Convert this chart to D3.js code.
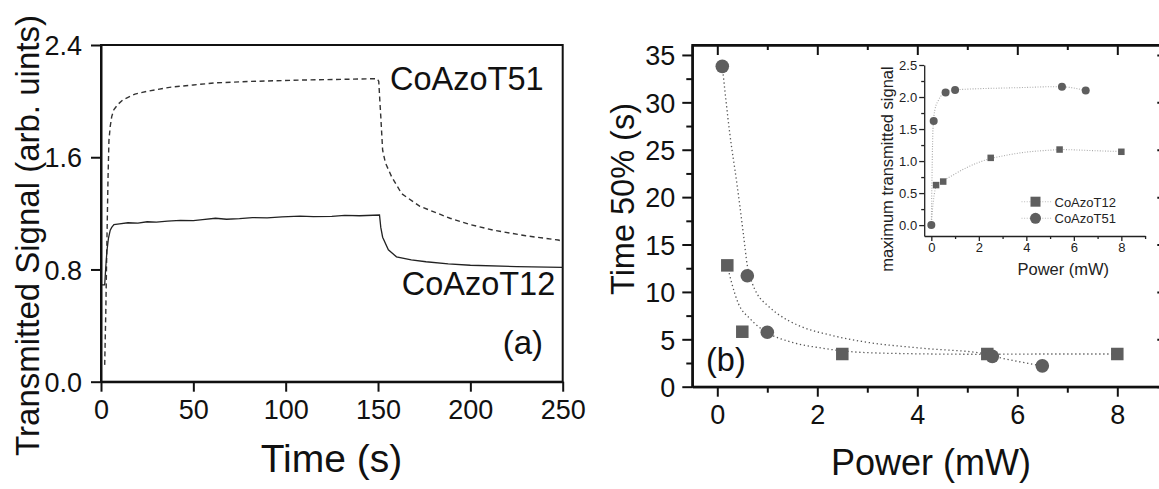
<!DOCTYPE html>
<html>
<head>
<meta charset="utf-8">
<script src="https://cdn.jsdelivr.net/npm/d3@7"></script>
<style>
  html, body { margin: 0; padding: 0; background: #ffffff; }
  svg { display: block; font-family: "Liberation Sans", Arial, sans-serif; }
</style>
</head>
<body>
<svg id="chart" width="1159" height="489"></svg>
<script>
// ---------- Panel (a): transmitted signal vs time ----------
const timeTicks = [0, 50, 100, 150, 200, 250];
const signalTicks = [0, 0.8, 1.6, 2.4];

// [time (s), signal]
const signalT51 = [
  [2.0, 0.12], [2.6, 0.5], [3.2, 1.0], [3.8, 1.45], [4.3, 1.72], [5.0, 1.82],
  [5.8, 1.89], [7, 1.94], [9.4, 1.98], [12, 2.01], [18.4, 2.05], [25, 2.07],
  [38, 2.10], [50, 2.115], [61.7, 2.13], [80, 2.14], [107.7, 2.15], [130, 2.155],
  [149.6, 2.16], [150.4, 2.14], [151, 2.0], [151.5, 1.89], [152.5, 1.65],
  [154, 1.56], [157.4, 1.46], [162.8, 1.34], [172.7, 1.25], [189, 1.165],
  [200, 1.12], [212.5, 1.08], [230, 1.04], [247.6, 1.01], [250, 1.0]
];
const signalT12 = [
  [0.4, 0.69], [2.0, 0.69], [2.5, 0.8], [3.2, 0.93], [4.0, 1.02], [5.0, 1.08],
  [5.8, 1.10], [7, 1.12], [10, 1.125], [14.6, 1.133], [20, 1.13], [25, 1.14],
  [30, 1.138], [36, 1.145], [43, 1.15], [50, 1.148], [55, 1.155], [62, 1.165],
  [68, 1.158], [75, 1.162], [82, 1.17], [90, 1.168], [98, 1.175], [107.8, 1.18],
  [115, 1.176], [125, 1.178], [132, 1.185], [140, 1.183], [150.8, 1.188],
  [151.5, 1.1], [152.5, 1.03], [155.6, 0.94], [160, 0.89], [168, 0.868],
  [176, 0.855], [188, 0.84], [200, 0.83], [225, 0.82], [250, 0.815]
];

// ---------- Panel (b): time to 50% vs power ----------
const powerTicks = [0, 2, 4, 6, 8];
const powerMinor = [1, 3, 5, 7, 9];
const timeHalfTicks = [0, 5, 10, 15, 20, 25, 30, 35];
const timeHalfMinor = [2.5, 7.5, 12.5, 17.5, 22.5, 27.5, 32.5];

const powerT12 = [0.2, 0.5, 2.5, 5.4, 8.0];
const halfT12  = [12.8, 5.8, 3.45, 3.45, 3.45];
const powerT51 = [0.1, 0.6, 1.0, 5.5, 6.5];
const halfT51  = [33.8, 11.7, 5.75, 3.2, 2.2];

// fitted decay guides
const fitHalfT12 = [
  [0.2, 12.8], [0.29, 10.9], [0.42, 8.8], [0.65, 7.2], [1.0, 5.7], [1.45, 4.75],
  [2.12, 4.05], [2.5, 3.78], [3.45, 3.52], [5.32, 3.42], [6.5, 3.45], [8.0, 3.45]
];
const fitHalfT51 = [
  [0.1, 33.8], [0.25, 26.7], [0.39, 21.5], [0.52, 16.2], [0.6, 12.8], [0.7, 10.9],
  [0.79, 9.85], [1.0, 8.6], [1.19, 7.75], [1.65, 6.4], [2.25, 5.46], [2.92, 4.75],
  [4.12, 4.05], [5.32, 3.5], [5.5, 3.25], [6.5, 2.2]
];

// ---------- Inset: maximum transmitted signal vs power ----------
const insetPowerTicks = [0, 2, 4, 6, 8];
const insetPowerMinor = [1, 3, 5, 7, 9];
const insetSignalTicks = [0, 0.5, 1.0, 1.5, 2.0, 2.5];
const insetSignalMinor = [0.25, 0.75, 1.25, 1.75, 2.25];

const maxPowerT12 = [0.2, 0.5, 2.5, 5.4, 8.0];
const maxSignalT12 = [0.625, 0.68, 1.05, 1.18, 1.145];
const maxPowerT51 = [0.0, 0.1, 0.6, 1.0, 5.5, 6.5];
const maxSignalT51 = [0.0, 1.625, 2.07, 2.11, 2.16, 2.10];

const fitMaxT12 = [
  [0, 0], [0.05, 0.25], [0.1, 0.42], [0.2, 0.6], [0.5, 0.69], [1, 0.8], [1.5, 0.9],
  [2, 0.98], [2.5, 1.04], [3, 1.08], [4, 1.14], [5, 1.17], [5.5, 1.18], [6, 1.175],
  [7, 1.16], [8, 1.15]
];
const fitMaxT51 = [
  [0, 0], [0.03, 0.8], [0.07, 1.5], [0.15, 1.8], [0.3, 1.95], [0.6, 2.07], [1, 2.11],
  [2, 2.13], [3, 2.14], [4, 2.15], [5, 2.16], [5.5, 2.16], [6, 2.14], [6.5, 2.1]
];

const seriesNames = ["CoAzoT12", "CoAzoT51"];

// ---------- drawing ----------
const svg = d3.select("#chart");
const ink = "#111";
const markFill = "#5e5e5e";

function styleAxis(g, fontSize) {
  g.selectAll("path.domain").attr("stroke", ink).attr("stroke-width", 2);
  g.selectAll(".tick line").attr("stroke", ink).attr("stroke-width", 2);
  g.selectAll(".tick text").attr("fill", ink)
    .style("font-size", fontSize + "px")
    .style("font-family", '"Liberation Sans", Arial, sans-serif');
}

// ---- panel (a)
const xA = d3.scaleLinear().domain([0, 250]).range([101, 562.7]);
const yA = d3.scaleLinear().domain([0, 2.4]).range([381.7, 45]);

svg.append("rect")
  .attr("x", xA(0)).attr("y", yA(2.4))
  .attr("width", xA(250) - xA(0)).attr("height", yA(0) - yA(2.4))
  .attr("fill", "none").attr("stroke", ink).attr("stroke-width", 2);

const axA_left = svg.append("g").attr("transform", `translate(${xA(0)},0)`)
  .call(d3.axisLeft(yA).tickValues(signalTicks).tickFormat(d3.format(".1f"))
    .tickSize(10).tickSizeOuter(0).tickPadding(9));
styleAxis(axA_left, 27);
axA_left.selectAll(".tick text").attr("dy", "0.36em");

const axA_bottom = svg.append("g").attr("transform", `translate(0,${yA(0)})`)
  .call(d3.axisBottom(xA).tickValues(timeTicks).tickFormat(d3.format("d"))
    .tickSize(10).tickSizeOuter(0).tickPadding(8));
styleAxis(axA_bottom, 27);

const lineA = d3.line().x(d => xA(d[0])).y(d => yA(d[1]));
svg.append("path").datum(signalT51).attr("d", lineA)
  .attr("fill", "none").attr("stroke", "#333").attr("stroke-width", 1.4)
  .attr("stroke-dasharray", "5,3.5");
svg.append("path").datum(signalT12).attr("d", lineA)
  .attr("fill", "none").attr("stroke", "#222").attr("stroke-width", 1.3);

svg.append("text").attr("x", 390).attr("y", 90)
  .style("font-size", "32.5px").attr("fill", ink).text(seriesNames[1]);
svg.append("text").attr("x", 401.7).attr("y", 295)
  .style("font-size", "32.5px").attr("fill", ink).text(seriesNames[0]);
svg.append("text").attr("x", 502.7).attr("y", 354)
  .style("font-size", "33px").attr("fill", ink).text("(a)");

svg.append("text")
  .attr("transform", "translate(39,235.5) rotate(-90)")
  .attr("text-anchor", "middle")
  .style("font-size", "33px").attr("fill", ink)
  .text("Transmitted Signal (arb. uints)");
svg.append("text").attr("x", 331.5).attr("y", 471.7)
  .attr("text-anchor", "middle")
  .style("font-size", "39px").attr("fill", ink).text("Time (s)");

// ---- panel (b)
const xB = d3.scaleLinear().domain([-0.5, 9]).range([692.3, 1167.3]);
const yB = d3.scaleLinear().domain([0, 36.05]).range([386.7, 45]);

svg.append("rect")
  .attr("x", xB(-0.5)).attr("y", yB(36.05))
  .attr("width", xB(9) - xB(-0.5)).attr("height", yB(0) - yB(36.05))
  .attr("fill", "none").attr("stroke", ink).attr("stroke-width", 2);

// left: major + minor, outward
const axB_left = svg.append("g").attr("transform", `translate(${xB(-0.5)},0)`)
  .call(d3.axisLeft(yB).tickValues(timeHalfTicks).tickFormat(d3.format("d"))
    .tickSize(10).tickSizeOuter(0).tickPadding(7));
styleAxis(axB_left, 27);
axB_left.selectAll(".tick text").attr("dy", "0.36em");
const axB_leftMinor = svg.append("g").attr("transform", `translate(${xB(-0.5)},0)`)
  .call(d3.axisLeft(yB).tickValues(timeHalfMinor).tickFormat("").tickSize(6).tickSizeOuter(0));
styleAxis(axB_leftMinor, 10);

// bottom: major + minor, outward
const axB_bottom = svg.append("g").attr("transform", `translate(0,${yB(0)})`)
  .call(d3.axisBottom(xB).tickValues(powerTicks).tickFormat(d3.format("d"))
    .tickSize(10).tickSizeOuter(0).tickPadding(8));
styleAxis(axB_bottom, 27);
const axB_bottomMinor = svg.append("g").attr("transform", `translate(0,${yB(0)})`)
  .call(d3.axisBottom(xB).tickValues(powerMinor).tickFormat("").tickSize(6).tickSizeOuter(0));
styleAxis(axB_bottomMinor, 10);

// top and right: inward ticks, no labels
const axB_top = svg.append("g").attr("transform", `translate(0,${yB(36.05)})`)
  .call(d3.axisTop(xB).tickValues(powerTicks).tickFormat("").tickSize(-10).tickSizeOuter(0));
styleAxis(axB_top, 10);
const axB_topMinor = svg.append("g").attr("transform", `translate(0,${yB(36.05)})`)
  .call(d3.axisTop(xB).tickValues(powerMinor).tickFormat("").tickSize(-5).tickSizeOuter(0));
styleAxis(axB_topMinor, 10);
const axB_right = svg.append("g").attr("transform", `translate(${xB(9)},0)`)
  .call(d3.axisRight(yB).tickValues(timeHalfTicks).tickFormat("").tickSize(-10).tickSizeOuter(0));
styleAxis(axB_right, 10);

const lineB = d3.line().x(d => xB(d[0])).y(d => yB(d[1])).curve(d3.curveMonotoneX);
[fitHalfT12, fitHalfT51].forEach(f => {
  svg.append("path").datum(f).attr("d", lineB)
    .attr("fill", "none").attr("stroke", "#555").attr("stroke-width", 1.3)
    .attr("stroke-dasharray", "1.3,2.7");
});

const sq = 12.5;
svg.append("g").selectAll("rect").data(d3.zip(powerT12, halfT12)).join("rect")
  .attr("x", d => xB(d[0]) - sq / 2).attr("y", d => yB(d[1]) - sq / 2)
  .attr("width", sq).attr("height", sq).attr("fill", markFill);
svg.append("g").selectAll("circle").data(d3.zip(powerT51, halfT51)).join("circle")
  .attr("cx", d => xB(d[0])).attr("cy", d => yB(d[1])).attr("r", 6.8)
  .attr("fill", markFill);

svg.append("text").attr("x", 706).attr("y", 371)
  .style("font-size", "32.5px").attr("fill", ink).text("(b)");

svg.append("text")
  .attr("transform", "translate(634,199) rotate(-90)")
  .attr("text-anchor", "middle")
  .style("font-size", "32.5px").attr("fill", ink).text("Time 50% (s)");
svg.append("text").attr("x", 931).attr("y", 475)
  .attr("text-anchor", "middle")
  .style("font-size", "36px").attr("fill", ink).text("Power (mW)");

// ---- inset
const xC = d3.scaleLinear().domain([-0.3, 9]).range([924.2, 1145.1]);
const yC = d3.scaleLinear().domain([-0.17, 2.5]).range([236, 65]);

function styleInset(g) {
  g.selectAll("path.domain").attr("stroke", "#222").attr("stroke-width", 1.3);
  g.selectAll(".tick line").attr("stroke", "#222").attr("stroke-width", 1.3);
  g.selectAll(".tick text").attr("fill", "#222")
    .style("font-size", "13px")
    .style("font-family", '"Liberation Sans", Arial, sans-serif');
}

const axC_left = svg.append("g").attr("transform", `translate(${xC(-0.3)},0)`)
  .call(d3.axisLeft(yC).tickValues(insetSignalTicks).tickFormat(d3.format(".1f"))
    .tickSize(5).tickSizeOuter(0).tickPadding(2));
styleInset(axC_left);
axC_left.selectAll(".tick text").attr("dy", "0.36em");
const axC_leftMinor = svg.append("g").attr("transform", `translate(${xC(-0.3)},0)`)
  .call(d3.axisLeft(yC).tickValues(insetSignalMinor).tickFormat("").tickSize(3).tickSizeOuter(0));
styleInset(axC_leftMinor);
axC_leftMinor.select("path.domain").remove();

const axC_bottom = svg.append("g").attr("transform", `translate(0,${yC(-0.17)})`)
  .call(d3.axisBottom(xC).tickValues(insetPowerTicks).tickFormat(d3.format("d"))
    .tickSize(5).tickSizeOuter(0).tickPadding(2));
styleInset(axC_bottom);
const axC_bottomMinor = svg.append("g").attr("transform", `translate(0,${yC(-0.17)})`)
  .call(d3.axisBottom(xC).tickValues(insetPowerMinor).tickFormat("").tickSize(3).tickSizeOuter(0));
styleInset(axC_bottomMinor);
axC_bottomMinor.select("path.domain").remove();

const lineC = d3.line().x(d => xC(d[0])).y(d => yC(d[1])).curve(d3.curveMonotoneX);
[fitMaxT12, fitMaxT51].forEach(f => {
  svg.append("path").datum(f).attr("d", lineC)
    .attr("fill", "none").attr("stroke", "#aaa").attr("stroke-width", 1.1)
    .attr("stroke-dasharray", "1,1.6");
});

const sqC = 6.5;
svg.append("g").selectAll("rect").data(d3.zip(maxPowerT12, maxSignalT12)).join("rect")
  .attr("x", d => xC(d[0]) - sqC / 2).attr("y", d => yC(d[1]) - sqC / 2)
  .attr("width", sqC).attr("height", sqC).attr("fill", markFill);
svg.append("g").selectAll("circle").data(d3.zip(maxPowerT51, maxSignalT51)).join("circle")
  .attr("cx", d => xC(d[0])).attr("cy", d => yC(d[1])).attr("r", 4)
  .attr("fill", markFill);

// inset legend
const legend = svg.append("g").attr("transform", "translate(1021.5,0)");
const legendRows = [{ name: seriesNames[0], y: 201.7, shape: "square" },
                    { name: seriesNames[1], y: 218.3, shape: "circle" }];
legendRows.forEach(r => {
  legend.append("line").attr("x1", 0).attr("x2", 30).attr("y1", r.y).attr("y2", r.y)
    .attr("stroke", "#bbb").attr("stroke-width", 1.1).attr("stroke-dasharray", "1,1.6");
  if (r.shape === "square") {
    legend.append("rect").attr("x", 14 - 5).attr("y", r.y - 5)
      .attr("width", 10).attr("height", 10).attr("fill", markFill);
  } else {
    legend.append("circle").attr("cx", 14).attr("cy", r.y).attr("r", 5.5).attr("fill", markFill);
  }
  legend.append("text").attr("x", 33).attr("y", r.y + 4.8)
    .style("font-size", "13px").attr("fill", "#222").text(r.name);
});

svg.append("text")
  .attr("transform", "translate(893,169) rotate(-90)")
  .attr("text-anchor", "middle")
  .style("font-size", "16.5px").attr("fill", "#222").text("maximum transmitted signal");
svg.append("text").attr("x", 1063.3).attr("y", 275)
  .attr("text-anchor", "middle")
  .style("font-size", "16.5px").attr("fill", "#222").text("Power (mW)");
</script>
</body>
</html>
